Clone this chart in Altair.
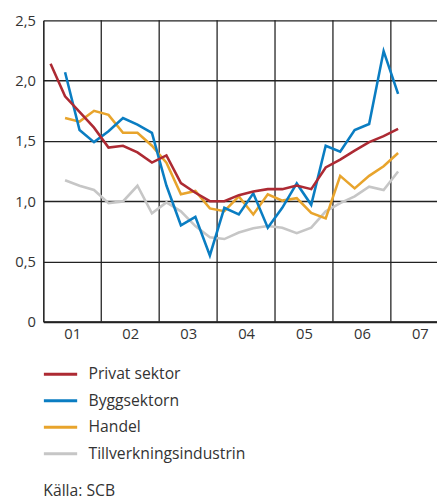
import altair as alt
import pandas as pd

series_names = ["Privat sektor", "Byggsektorn", "Handel", "Tillverkningsindustrin"]
series_colors = ["#ad2a33", "#0a7dc2", "#e8a42c", "#c6c6c6"]

# quarterly values 2001K1 .. 2007K1 (Privat sektor) and 2001K2 .. 2007K1 (others)
privat = [2.14, 1.87, 1.74, 1.61, 1.445, 1.46, 1.405, 1.32, 1.38, 1.15, 1.07, 1.0,
          1.0, 1.05, 1.08, 1.10, 1.10, 1.13, 1.10, 1.28, 1.345, 1.42, 1.49, 1.54, 1.60]
bygg = [2.07, 1.59, 1.49, 1.58, 1.69, 1.635, 1.567, 1.13, 0.80, 0.87, 0.55,
        0.945, 0.89, 1.065, 0.78, 0.945, 1.147, 0.97, 1.46, 1.41, 1.59, 1.64, 2.245, 1.89]
handel = [1.69, 1.66, 1.75, 1.716, 1.567, 1.567, 1.46, 1.32, 1.057, 1.085, 0.94,
          0.917, 1.04, 0.89, 1.057, 1.005, 1.025, 0.903, 0.857, 1.21, 1.106, 1.21, 1.29, 1.40]
tillv = [1.174, 1.128, 1.093, 0.984, 0.998, 1.128, 0.90, 0.99, 0.916, 0.794, 0.70,
         0.686, 0.74, 0.775, 0.794, 0.78, 0.735, 0.78, 0.916, 0.984, 1.04, 1.12, 1.093, 1.247]

year_boundaries = [2002, 2003, 2004, 2005, 2006, 2007]
label_years = [2001, 2002, 2003, 2004, 2005, 2006, 2007]
y_ticks = [0, 0.5, 1.0, 1.5, 2.0, 2.5]
source_text = "Källa: SCB"

def quarters(start_year, start_q, n):
    out = []
    y, q = start_year, start_q
    for _ in range(n):
        out.append((y, q))
        q += 1
        if q > 4:
            q = 1
            y += 1
    return out

rows = []
# draw order: grey, orange, blue, red (red on top)
for name, vals, sy, sq in [
    ("Tillverkningsindustrin", tillv, 2001, 2),
    ("Handel", handel, 2001, 2),
    ("Byggsektorn", bygg, 2001, 2),
    ("Privat sektor", privat, 2001, 1),
]:
    for (y, q), v in zip(quarters(sy, sq, len(vals)), vals):
        rows.append({"serie": name, "t": y + (q - 0.5) / 4, "value": v})
df = pd.DataFrame(rows)

FONT = "Open Sans"
TXT = "#333333"
x_scale = alt.Scale(domain=[2001, 2001 + 401 / 59], nice=False, zero=False)
y_scale = alt.Scale(domain=[0, 2.5], nice=False)

grid_v = alt.Chart(pd.DataFrame({"year": year_boundaries})).mark_rule(
    color="#222222", strokeWidth=1.3
).encode(x=alt.X("year:Q", scale=x_scale))

lines = alt.Chart(df).mark_line(strokeWidth=2.6).encode(
    x=alt.X(
        "t:Q",
        scale=x_scale,
        title=None,
        axis=alt.Axis(
            values=[yr + 0.5 for yr in label_years],
            labelExpr="'0' + floor(datum.value - 2000)",
            grid=False, ticks=False, domain=True, domainColor="#222222", domainWidth=2,
            labelFont=FONT, labelFontSize=15, labelColor=TXT, labelPadding=5,
        ),
    ),
    y=alt.Y(
        "value:Q",
        scale=y_scale,
        title=None,
        axis=alt.Axis(
            values=y_ticks,
            labelExpr="datum.value == 0 ? '0' : replace(format(datum.value, '.1f'), '.', ',')",
            grid=True, gridColor="#222222", gridWidth=1.3, ticks=False,
            domain=True, domainColor="#222222", domainWidth=1.6,
            labelFont=FONT, labelFontSize=15, labelColor=TXT, labelPadding=8,
        ),
    ),
    color=alt.Color(
        "serie:N",
        scale=alt.Scale(domain=series_names, range=series_colors),
        legend=alt.Legend(
            title=None, orient="none", legendX=-1, legendY=342, direction="vertical",
            symbolType="stroke", symbolStrokeWidth=3, symbolSize=1150,
            labelFont=FONT, labelFontSize=16, labelColor=TXT, labelOffset=10,
            labelLimit=400, rowPadding=-9.5,
        ),
    ),
    detail="serie:N",
)

source = alt.Chart(pd.DataFrame({"txt": [source_text]})).mark_text(
    align="left", baseline="middle", font=FONT, fontSize=16, color=TXT
).encode(text="txt:N", x=alt.value(0), y=alt.value(480))

chart = alt.layer(grid_v, lines, source).properties(
    width=401, height=307,
    autosize=alt.AutoSizeParams(type="none"),
    padding={"left": 36, "top": 8, "right": 0, "bottom": 178},
).configure_view(stroke=None)

chart.save("out.html", embed_options={"renderer": "svg", "actions": False})
